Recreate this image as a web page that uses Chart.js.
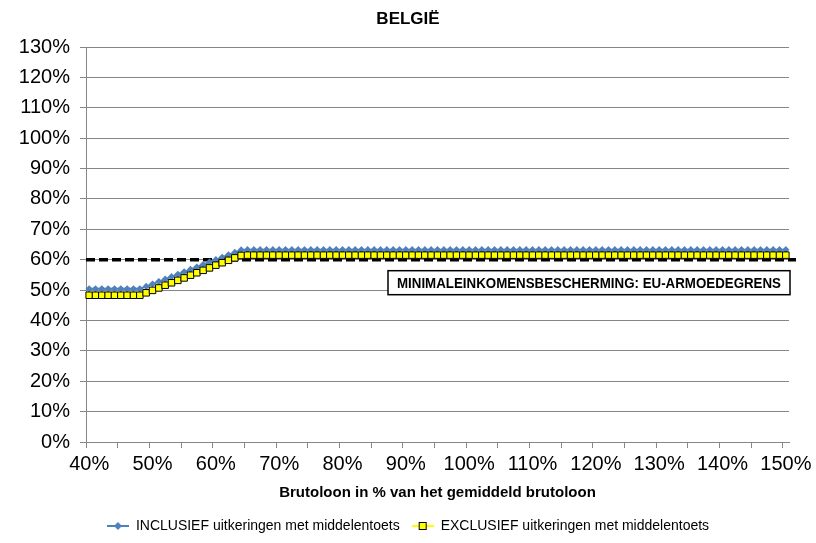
<!DOCTYPE html>
<html>
<head>
<meta charset="utf-8">
<script src="https://cdn.jsdelivr.net/npm/chart.js@4/dist/chart.umd.min.js"></script>
<style>
  html, body { margin: 0; padding: 0; background: #fff; }
  canvas { display: block; }
</style>
</head>
<body>
<canvas id="chart" width="816" height="543"></canvas>
<script>
// Brutoloon as % of the average gross wage (x axis)
const brutoloon = [
  40, 41, 42, 43, 44, 45, 46, 47, 48, 49,
  50, 51, 52, 53, 54, 55, 56, 57, 58, 59,
  60, 61, 62, 63, 64, 65, 66, 67, 68, 69,
  70, 71, 72, 73, 74, 75, 76, 77, 78, 79,
  80, 81, 82, 83, 84, 85, 86, 87, 88, 89,
  90, 91, 92, 93, 94, 95, 96, 97, 98, 99,
  100, 101, 102, 103, 104, 105, 106, 107, 108, 109,
  110, 111, 112, 113, 114, 115, 116, 117, 118, 119,
  120, 121, 122, 123, 124, 125, 126, 127, 128, 129,
  130, 131, 132, 133, 134, 135, 136, 137, 138, 139,
  140, 141, 142, 143, 144, 145, 146, 147, 148, 149,
  150
];

// Net income including means-tested benefits (% of average)
const inclusief = [
  50.4, 50.4, 50.4, 50.4, 50.4, 50.4, 50.4, 50.4, 50.4, 51.2,
  52.0, 52.8, 53.6, 54.4, 55.2, 56.0, 56.8, 57.6, 58.4, 59.2,
  60.0, 60.8, 61.6, 62.4, 63.2, 63.3, 63.3, 63.3, 63.3, 63.3,
  63.3, 63.3, 63.3, 63.3, 63.3, 63.3, 63.3, 63.3, 63.3, 63.3,
  63.3, 63.3, 63.3, 63.3, 63.3, 63.3, 63.3, 63.3, 63.3, 63.3,
  63.3, 63.3, 63.3, 63.3, 63.3, 63.3, 63.3, 63.3, 63.3, 63.3,
  63.3, 63.3, 63.3, 63.3, 63.3, 63.3, 63.3, 63.3, 63.3, 63.3,
  63.3, 63.3, 63.3, 63.3, 63.3, 63.3, 63.3, 63.3, 63.3, 63.3,
  63.3, 63.3, 63.3, 63.3, 63.3, 63.3, 63.3, 63.3, 63.3, 63.3,
  63.3, 63.3, 63.3, 63.3, 63.3, 63.3, 63.3, 63.3, 63.3, 63.3,
  63.3, 63.3, 63.3, 63.3, 63.3, 63.3, 63.3, 63.3, 63.3, 63.3,
  63.3
];

// Net income excluding means-tested benefits (% of average)
const exclusief = [
  48.3, 48.3, 48.3, 48.3, 48.3, 48.3, 48.3, 48.3, 48.3, 49.1,
  49.9, 50.7, 51.6, 52.4, 53.2, 54.0, 54.9, 55.7, 56.5, 57.3,
  58.2, 59.0, 59.8, 60.6, 61.4, 61.5, 61.5, 61.5, 61.5, 61.5,
  61.5, 61.5, 61.5, 61.5, 61.5, 61.5, 61.5, 61.5, 61.5, 61.5,
  61.5, 61.5, 61.5, 61.5, 61.5, 61.5, 61.5, 61.5, 61.5, 61.5,
  61.5, 61.5, 61.5, 61.5, 61.5, 61.5, 61.5, 61.5, 61.5, 61.5,
  61.5, 61.5, 61.5, 61.5, 61.5, 61.5, 61.5, 61.5, 61.5, 61.5,
  61.5, 61.5, 61.5, 61.5, 61.5, 61.5, 61.5, 61.5, 61.5, 61.5,
  61.5, 61.5, 61.5, 61.5, 61.5, 61.5, 61.5, 61.5, 61.5, 61.5,
  61.5, 61.5, 61.5, 61.5, 61.5, 61.5, 61.5, 61.5, 61.5, 61.5,
  61.5, 61.5, 61.5, 61.5, 61.5, 61.5, 61.5, 61.5, 61.5, 61.5,
  61.5
];

// EU poverty threshold (% of average)
const armoedegrens = 60;

const seriesNames = [
  'INCLUSIEF uitkeringen met middelentoets',
  'EXCLUSIEF uitkeringen met middelentoets'
];
const titel = 'BELGIË';
const asTitel = 'Brutoloon in % van het gemiddeld brutoloon';
const grensLabel = 'MINIMALEINKOMENSBESCHERMING: EU-ARMOEDEGRENS';

const BLUE = '#4F81BD';
const YELLOW = '#FFFF00';
const GRID = '#868686';
const FONT = "'Liberation Sans', Arial, sans-serif";

// Legend swatches: line with marker
function swatch(kind) {
  const c = document.createElement('canvas');
  c.width = 22; c.height = 12;
  const g = c.getContext('2d');
  g.lineWidth = 2;
  g.strokeStyle = kind === 'diamond' ? BLUE : YELLOW;
  g.beginPath(); g.moveTo(0, 6); g.lineTo(22, 6); g.stroke();
  if (kind === 'diamond') {
    g.fillStyle = BLUE;
    g.beginPath(); g.moveTo(11, 2); g.lineTo(15, 6); g.lineTo(11, 10); g.lineTo(7, 6); g.closePath(); g.fill();
  } else {
    g.fillStyle = YELLOW; g.strokeStyle = '#000'; g.lineWidth = 1;
    g.fillRect(7.5, 2.5, 7, 7); g.strokeRect(7.5, 2.5, 7, 7);
  }
  return c;
}
const swatches = [swatch('diamond'), swatch('square')];

// Dashed poverty line under the series, and its boxed label
const povertyLine = {
  id: 'povertyLine',
  beforeDatasetsDraw(chart) {
    const { ctx, chartArea, scales } = chart;
    const y = scales.y.getPixelForValue(armoedegrens);
    ctx.save();
    ctx.strokeStyle = '#000';
    ctx.lineWidth = 3.5;
    ctx.setLineDash([9, 4]);
    ctx.beginPath();
    ctx.moveTo(chartArea.left, y);
    ctx.lineTo(chartArea.right + 7, y);
    ctx.stroke();
    ctx.restore();
  },
  afterDatasetsDraw(chart) {
    const { ctx, chartArea, scales } = chart;
    const y = scales.y.getPixelForValue(armoedegrens);
    const w = 402, h = 24;
    const x0 = chartArea.right - w + 1;
    const y0 = y + 11;
    ctx.save();
    ctx.fillStyle = '#fff';
    ctx.fillRect(x0, y0, w, h);
    ctx.strokeStyle = '#000';
    ctx.lineWidth = 1.5;
    ctx.strokeRect(x0, y0, w, h);
    ctx.font = 'bold 15px ' + FONT;
    ctx.fillStyle = '#000';
    ctx.textBaseline = 'middle';
    ctx.textAlign = 'center';
    const tw = ctx.measureText(grensLabel).width;
    const sx = Math.min(1, (w - 18) / tw);
    ctx.translate(x0 + w / 2, y0 + h / 2 + 1);
    ctx.scale(sx, 1);
    ctx.fillText(grensLabel, 0, 0);
    ctx.restore();
  }
};

// x-axis title centred under the plot area
const axisTitle = {
  id: 'axisTitle',
  afterDraw(chart) {
    const { ctx, chartArea } = chart;
    ctx.save();
    ctx.font = 'bold 15px ' + FONT;
    ctx.fillStyle = '#000';
    ctx.textAlign = 'center';
    ctx.textBaseline = 'middle';
    ctx.fillText(asTitel, (chartArea.left + chartArea.right) / 2, 493);
    ctx.restore();
  }
};

new Chart(document.getElementById('chart'), {
  type: 'line',
  data: {
    labels: brutoloon,
    datasets: [
      {
        label: seriesNames[0],
        data: inclusief,
        borderColor: BLUE,
        backgroundColor: BLUE,
        borderWidth: 2,
        pointStyle: 'rectRot',
        pointRadius: 3.6,
        pointBorderWidth: 0,
        pointBackgroundColor: BLUE,
        tension: 0,
        order: 1
      },
      {
        label: seriesNames[1],
        data: exclusief,
        borderColor: YELLOW,
        backgroundColor: YELLOW,
        borderWidth: 2,
        pointStyle: 'rect',
        pointRadius: 4.6,
        pointBorderWidth: 1,
        pointBorderColor: '#000',
        pointBackgroundColor: YELLOW,
        tension: 0,
        order: 0
      }
    ]
  },
  options: {
    responsive: false,
    animation: false,
    events: [],
    layout: { padding: 0 },
    scales: {
      x: {
        type: 'category',
        offset: true,
        afterFit(scale) { scale.height = 65; scale.paddingRight = 27; },
        border: { color: GRID, width: 1 },
        grid: {
          offset: true,
          drawOnChartArea: false,
          drawTicks: true,
          tickLength: 6,
          tickColor: (ctx) => (ctx.index % 5 === 0 ? GRID : 'rgba(0,0,0,0)')
        },
        ticks: {
          autoSkip: false,
          maxRotation: 0,
          minRotation: 0,
          padding: 4,
          color: '#000',
          font: { family: FONT, size: 20 },
          callback: (value, index) => (brutoloon[index] % 10 === 0 ? brutoloon[index] + '%' : '')
        }
      },
      y: {
        min: 0,
        max: 130,
        afterFit(scale) { scale.width = 86; },
        border: { color: GRID, width: 1 },
        grid: { color: GRID, lineWidth: 1, tickLength: 6 },
        ticks: {
          stepSize: 10,
          padding: 10,
          color: '#000',
          font: { family: FONT, size: 20 },
          callback: (v) => v + '%'
        }
      }
    },
    plugins: {
      title: {
        display: true,
        text: titel,
        color: '#000',
        font: { family: FONT, size: 17, weight: 'bold' },
        padding: { top: 9, bottom: 17.6 }
      },
      legend: {
        position: 'bottom',
        labels: {
          usePointStyle: true,
          pointStyleWidth: 22,
          padding: 12,
          color: '#000',
          font: { family: FONT, size: 14 },
          sort: (a, b) => a.datasetIndex - b.datasetIndex,
          generateLabels(chart) {
            const items = Chart.defaults.plugins.legend.labels.generateLabels(chart);
            items.forEach((it) => { it.pointStyle = swatches[it.datasetIndex]; });
            return items;
          }
        }
      },
      tooltip: { enabled: false }
    }
  },
  plugins: [povertyLine, axisTitle]
});
</script>
</body>
</html>
